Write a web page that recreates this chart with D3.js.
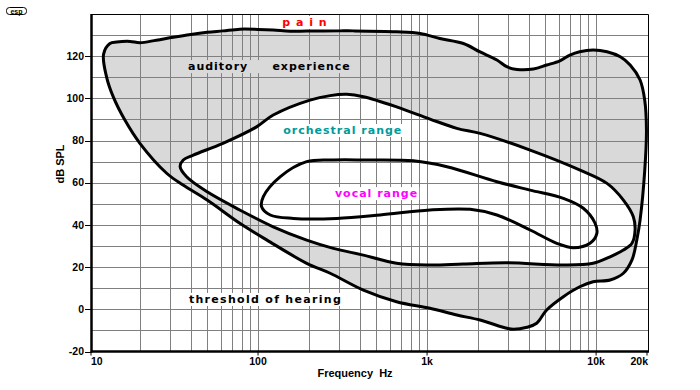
<!DOCTYPE html>
<html>
<head>
<meta charset="utf-8">
<script src="https://cdn.jsdelivr.net/npm/d3@7"></script>
<style>
	body { margin: 0; background: #fff; }
	svg { display: block; }
</style>
</head>
<body>
<div class="chart"></div>
<script>
// Hearing ranges, points as [frequency Hz, dB SPL], traced clockwise.
var auditoryRange = [
	[12.2, 121], [13.3, 126], [14.6, 126.7], [17.5, 127], [20, 126.4], [25, 127.6], [31.5, 129],
	[40, 130.3], [50, 131.3], [62, 132], [78, 132.8], [100, 132.7], [123, 132.4], [155, 131.8],
	[194, 131.9], [305, 132], [367, 132], [660, 131.6], [910, 130.8], [1190, 128.4], [1640, 126],
	[2060, 122], [2590, 118.2], [2960, 115], [3400, 113.7], [4250, 113.9], [5100, 115.8],
	[6100, 117.8], [7000, 120.5], [8000, 122.1], [9600, 122.9], [11600, 122.1], [13900, 119.7],
	[15900, 115.8], [18200, 108.7], [19400, 99], [19850, 85], [19400, 66], [18200, 42.3],
	[17400, 32.8], [16300, 23.4], [14500, 17.1], [12100, 13.9], [9600, 13.1], [8000, 10.7],
	[6400, 6], [5100, -0.3], [4450, -6.6], [3900, -8.5], [3250, -9.5], [2960, -9], [2060, -5.1],
	[1500, -2.7], [1040, 0.5], [660, 3.6], [420, 9.1], [267, 17.1], [194, 21.8], [113, 32.8],
	[78, 40.8], [50, 51.8], [36, 58.9], [28.8, 64.5], [20, 78.7], [16.3, 89.7], [13.9, 100.8],
	[12.7, 110.2]
];
var orchestralRange = [
	[34.6, 67.6], [36.1, 70.8], [41.4, 73.1], [62, 78.7], [98, 86.5], [123, 92.1], [203, 99.2],
	[267, 101.3], [335, 101.9], [420, 100.8], [660, 96], [1040, 90.2], [1500, 85.8], [2060, 83.4],
	[4070, 75.5], [8040, 66], [11600, 59.7], [14500, 51.8], [16600, 43.9], [17000, 37.6],
	[16300, 31.3], [14500, 28.1], [12100, 24.9], [9600, 21.8], [6400, 21], [2960, 22.1],
	[1640, 21.5], [1040, 21], [660, 21.8], [420, 25.7], [279, 28.9], [194, 32.8], [123, 39.1],
	[78, 47.1], [50, 55.7], [37.8, 62.8]
];
var vocalRange = [
	[105, 48.6], [107.5, 53.4], [135, 62.8], [194, 70], [279, 70.8], [420, 70.8], [830, 70.4],
	[1310, 67.6], [2590, 60.5], [4070, 56.5], [6400, 52.6], [8400, 47.9], [9860, 40.8],
	[10100, 36], [9200, 31.3], [7340, 29.2], [5850, 31.3], [4070, 37.6], [2590, 44.7],
	[1800, 47.4], [1040, 47.1], [527, 44.7], [292, 43.1], [162, 43.1], [118, 44.7]
];

// Axis ticks.
var xTickValues = [10, 100, 1000, 10000, 20000],
	xTickLabels = ['10', '100', '1k', '10k', '20k'],
	yTickValues = [-20, 0, 20, 40, 60, 80, 100, 120];

// Region labels: text and where it sits (Hz, dB).
var labelTexts = ['p a i n', 'auditory     experience', 'orchestral range', 'vocal range', 'threshold of hearing'],
	labelFreqs = [139, 38.5, 141, 285, 39],
	labelDbs = [134.3, 113.4, 83.1, 53.2, 3];

var shadeColor = '#d9d9d9',
	gridColor = '#808080',
	labelColors = ['#ff0000', '#000000', '#009a9a', '#ff00ff', '#000000'],
	labelBacks = ['#fff', shadeColor, '#fff', '#fff', '#fff'],
	labelSpacing = ['1px', '1px', '1px', '1px', '1.3px'];

var W = 700, H = 390;
var plot = {left: 91, right: 648, top: 14, bottom: 351.5};

var x = d3.scaleLog().domain([10, 20000]).range([89, 647]);
var y = d3.scaleLinear().domain([-20, 140]).range([351.5, 14]);

var svg = d3.select('.chart').append('svg')
	.attr('width', W)
	.attr('height', H)
	.attr('font-family', '"Liberation Sans", Arial, sans-serif');

svg.append('rect').attr('width', W).attr('height', H).attr('fill', '#fff');

var line = d3.line()
	.x(function(d) { return x(d[0]); })
	.y(function(d) { return y(d[1]); })
	.curve(d3.curveCatmullRomClosed.alpha(0.5));

// Fills first, grid on top of them, outlines on top of the grid.
svg.append('path').attr('d', line(auditoryRange)).attr('fill', shadeColor);
svg.append('path').attr('d', line(orchestralRange)).attr('fill', '#fff');
svg.append('path').attr('d', line(vocalRange)).attr('fill', '#fff');

var gridX = [];
[10, 100, 1000].forEach(function(decade) {
	for (var i = 2; i <= 10; i++) gridX.push(decade * i);
});
var gridY = d3.range(-10, 140, 10);

svg.append('g').selectAll('line').data(gridX).enter().append('line')
	.attr('x1', function(d) { return Math.round(x(d)) + 0.5; })
	.attr('x2', function(d) { return Math.round(x(d)) + 0.5; })
	.attr('y1', plot.top)
	.attr('y2', plot.bottom)
	.attr('stroke', gridColor)
	.attr('stroke-width', 1);
svg.append('g').selectAll('line').data(gridY).enter().append('line')
	.attr('x1', plot.left)
	.attr('x2', plot.right)
	.attr('y1', function(d) { return Math.round(y(d)) + 0.5; })
	.attr('y2', function(d) { return Math.round(y(d)) + 0.5; })
	.attr('stroke', gridColor)
	.attr('stroke-width', 1);

[auditoryRange, orchestralRange, vocalRange].forEach(function(r) {
	svg.append('path')
		.attr('d', line(r))
		.attr('fill', 'none')
		.attr('stroke', '#000')
		.attr('stroke-width', 3)
		.attr('stroke-linejoin', 'round');
});

// Frame: thin top and right, heavy left and bottom axes.
svg.append('path')
	.attr('d', 'M' + plot.left + ',' + (plot.top + 0.5) + 'H' + (plot.right + 0.5) + 'V' + plot.bottom)
	.attr('fill', 'none')
	.attr('stroke', '#000')
	.attr('stroke-width', 1);
svg.append('line')
	.attr('x1', plot.left + 0.5).attr('x2', plot.left + 0.5)
	.attr('y1', plot.top).attr('y2', plot.bottom + 1)
	.attr('stroke', '#000').attr('stroke-width', 2.5);
svg.append('line')
	.attr('x1', plot.left).attr('x2', plot.right + 1)
	.attr('y1', plot.bottom).attr('y2', plot.bottom)
	.attr('stroke', '#000').attr('stroke-width', 2.5);

// Y ticks and labels.
var yTicks = svg.append('g').selectAll('g').data(yTickValues).enter().append('g');
yTicks.append('line')
	.attr('x1', plot.left - 6).attr('x2', plot.left)
	.attr('y1', function(d) { return Math.round(y(d)) + 0.5; })
	.attr('y2', function(d) { return Math.round(y(d)) + 0.5; })
	.attr('stroke', '#000');
yTicks.append('text')
	.attr('x', plot.left - 7)
	.attr('y', function(d) { return y(d); })
	.attr('dy', '0.35em')
	.attr('text-anchor', 'end')
	.attr('font-size', '10.5px')
	.attr('font-weight', 'bold')
	.text(function(d) { return d; });

// X ticks and labels; the end labels are kept inside the frame.
var xTicks = svg.append('g').selectAll('g').data(xTickValues).enter().append('g');
xTicks.append('line')
	.attr('x1', function(d) { return Math.min(Math.max(x(d), plot.left), plot.right); })
	.attr('x2', function(d) { return Math.min(Math.max(x(d), plot.left), plot.right); })
	.attr('y1', plot.bottom).attr('y2', plot.bottom + 4)
	.attr('stroke', '#000');
xTicks.append('text')
	.attr('x', function(d, i) {
		if (i === 0) return plot.left;
		if (i === xTickValues.length - 1) return plot.right;
		return x(d);
	})
	.attr('y', plot.bottom + 13)
	.attr('text-anchor', function(d, i) {
		return i === 0 ? 'start' : i === xTickValues.length - 1 ? 'end' : 'middle';
	})
	.attr('font-size', '10.5px')
	.attr('font-weight', 'bold')
	.text(function(d, i) { return xTickLabels[i]; });

// Axis titles.
svg.append('text')
	.attr('x', 355)
	.attr('y', 377)
	.attr('text-anchor', 'middle')
	.attr('font-size', '11px')
	.attr('font-weight', 'bold')
	.style('white-space', 'pre')
	.text('Frequency  Hz');
svg.append('text')
	.attr('transform', 'translate(64,164) rotate(-90)')
	.attr('text-anchor', 'middle')
	.attr('font-size', '11px')
	.attr('font-weight', 'bold')
	.text('dB SPL');

// Region labels with a patch behind them that hides the grid.
labelTexts.forEach(function(t, i) {
	var g = svg.append('g');
	var bg = g.append('rect').attr('fill', labelBacks[i]);
	var txt = g.append('text')
		.attr('x', x(labelFreqs[i]))
		.attr('y', y(labelDbs[i]))
		.attr('font-family', '"DejaVu Sans", Verdana, sans-serif')
		.attr('font-size', '11px')
		.attr('font-weight', 'bold')
		.attr('letter-spacing', labelSpacing[i])
		.attr('fill', labelColors[i])
		.style('white-space', 'pre')
		.text(t);
	var b = txt.node().getBBox();
	bg.attr('x', b.x - 2).attr('y', b.y)
		.attr('width', b.width + 3).attr('height', b.height);
});

// Little "esp" badge, top left.
svg.append('rect')
	.attr('x', 6.5).attr('y', 7.5).attr('width', 20).attr('height', 7)
	.attr('rx', 3)
	.attr('fill', '#fff').attr('stroke', '#000');
svg.append('text')
	.attr('x', 16.5).attr('y', 13.5)
	.attr('text-anchor', 'middle')
	.attr('font-size', '7px')
	.attr('font-weight', 'bold')
	.text('esp');
</script>
</body>
</html>
